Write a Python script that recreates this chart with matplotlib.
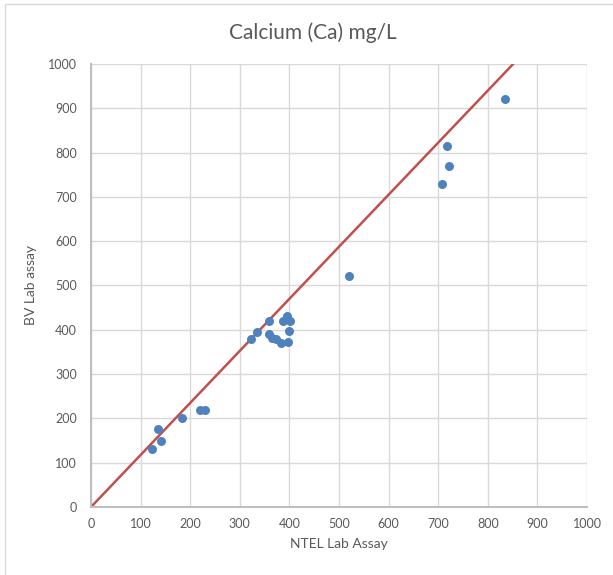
import matplotlib.pyplot as plt
import numpy as np
from matplotlib.patches import Rectangle

plt.rcParams['font.family'] = ['Lato', 'DejaVu Sans']

# NTEL lab assay (x) vs BV lab assay (y), Ca in mg/L
ntel = [122, 135, 142, 183, 220, 230, 323, 335, 358, 358, 365, 373, 383,
        388, 396, 402, 400, 397, 520, 707, 717, 722, 834]
bv = [130, 175, 150, 200, 220, 220, 380, 395, 420, 390, 382, 380, 370,
      420, 430, 420, 398, 373, 522, 730, 815, 770, 920]

line_slope = 1.175
ticks = list(range(0, 1001, 100))

fig = plt.figure(figsize=(6.13, 5.75), dpi=100)
ax = fig.add_axes([0.1485, 0.1183, 0.8091, 0.7704])

ax.set_xlim(0, 1000)
ax.set_ylim(0, 1000)
ax.set_xticks(ticks)
ax.set_yticks(ticks)
ax.grid(True, color='#d9d9d9', linewidth=1)
ax.set_axisbelow(True)
ax.tick_params(length=0, labelsize=9, colors='#595959')
ax.tick_params(axis='y', pad=10)
ax.tick_params(axis='x', pad=8)

for side in ['top', 'right']:
    ax.spines[side].set_visible(False)
for side in ['left', 'bottom']:
    ax.spines[side].set_color('#bfbfbf')
    ax.spines[side].set_linewidth(1.5)

xs = np.array([0, 1000])
ax.plot(xs, line_slope * xs, color='#c0504d', linewidth=1.8, zorder=2)
ax.scatter(ntel, bv, s=42, color='#4f81bd', zorder=3, linewidths=0)

fig.text(0.51, 1 - 33 / 575, 'Calcium (Ca) mg/L', fontsize=15,
         color='#595959', ha='center', va='center')
ax.set_xlabel('NTEL Lab Assay', fontsize=10, color='#595959', labelpad=6)
ax.set_ylabel('BV Lab assay', fontsize=10, color='#595959', labelpad=8)

# faint chart frame
fig.patches.append(Rectangle((5 / 613, -0.01), 1.1, 1 - 4 / 575 + 0.01,
                             transform=fig.transFigure, fill=False,
                             edgecolor='#d9d9d9', linewidth=1))

fig.savefig('out.png', dpi=100)
